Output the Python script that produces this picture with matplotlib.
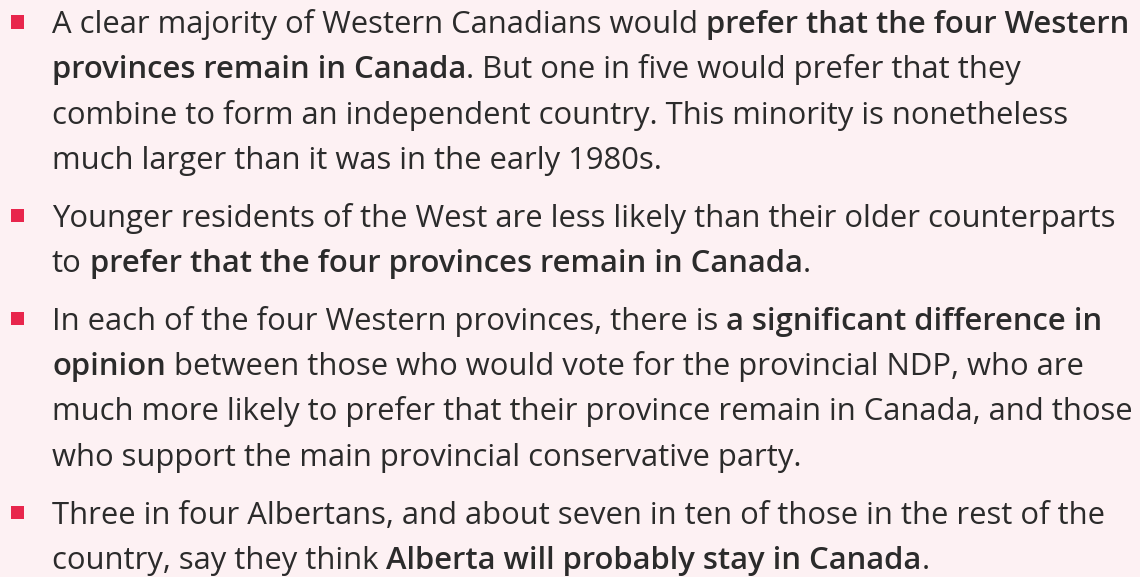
import matplotlib.pyplot as plt
import matplotlib as mpl
mpl.use('Agg')

# bullet text, one list of lines per bullet, **...** marks the bold runs
para1 = ["A clear majority of Western Canadians would **prefer that the four Western**",
         "**provinces remain in Canada**. But one in five would prefer that they",
         "combine to form an independent country. This minority is nonetheless",
         "much larger than it was in the early 1980s."]
para2 = ["Younger residents of the West are less likely than their older counterparts",
         "to **prefer that the four provinces remain in Canada**."]
para3 = ["In each of the four Western provinces, there is **a significant difference in**",
         "**opinion** between those who would vote for the provincial NDP, who are",
         "much more likely to prefer that their province remain in Canada, and those",
         "who support the main provincial conservative party."]
para4 = ["Three in four Albertans, and about seven in ten of those in the rest of the",
         "country, say they think **Alberta will probably stay in Canada**."]
paragraphs = [para1, para2, para3, para4]

W, H = 1140, 577
bg = '#fdf1f3'
txt_color = '#2b2b2b'
bullet_color = '#e8264c'
family = 'Open Sans'
bold = 'semibold'
fsize = 20

fig = plt.figure(figsize=(W / 100, H / 100), dpi=100, facecolor=bg)
renderer = fig.canvas.get_renderer()


def px(x, y):
    return x / W, 1 - y / H


def width_of(s, weight):
    t = fig.text(0, 0, s, fontsize=fsize, family=family, weight=weight)
    w = t.get_window_extent(renderer).width
    t.remove()
    return w


def line_width(line):
    sw = {wt: width_of('x x', wt) - width_of('xx', wt) for wt in ('normal', bold)}
    total = 0
    for i, seg in enumerate(line.split('**')):
        if not seg:
            continue
        wt = bold if i % 2 == 1 else 'normal'
        n_sp = len(seg) - len(seg.strip(' '))
        if seg.strip(' '):
            total += width_of(seg.strip(' '), wt)
        total += n_sp * sw[wt]
    return total


# fit the font so the longest plain line spans the same width as in the original
x0 = 52
fsize = fsize * (1112 - x0) / line_width(para2[0])
space_w = {wt: width_of('x x', wt) - width_of('xx', wt) for wt in ('normal', bold)}

line_step = 45.3
para_gap = 12.5
y = 33
for para in paragraphs:
    # square bullet, lower-left corner a few px above the baseline
    bx, by = px(11, y - 4.5)
    fig.patches.append(plt.Rectangle((bx, by), 13 / W, 13 / H, transform=fig.transFigure,
                                     facecolor=bullet_color, edgecolor='none'))
    for line in para:
        x = x0
        for i, seg in enumerate(line.split('**')):
            if not seg:
                continue
            wt = bold if i % 2 == 1 else 'normal'
            lead = len(seg) - len(seg.lstrip(' '))
            trail = len(seg) - len(seg.rstrip(' '))
            core = seg.strip(' ')
            x += lead * space_w[wt]
            if core:
                t = fig.text(*px(x, y), core, fontsize=fsize, family=family, weight=wt,
                             color=txt_color, va='baseline', ha='left')
                x += t.get_window_extent(renderer).width
            x += trail * space_w[wt]
        y += line_step
    y += para_gap

fig.savefig('out.png', dpi=100, facecolor=bg)
